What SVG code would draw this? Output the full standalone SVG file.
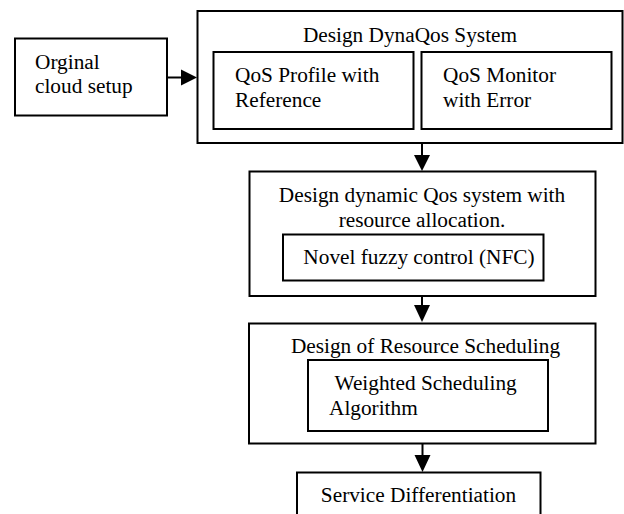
<svg xmlns="http://www.w3.org/2000/svg" width="624" height="514" viewBox="0 0 624 514" font-family="Liberation Serif, Times New Roman, serif" font-size="21.3">
  <style>
    .box { fill: #fff; stroke: #000; stroke-width: 2; }
    .lbl { fill: #000; }
    .mid { text-anchor: middle; }
    .edge { stroke: #000; stroke-width: 2; fill: none; }
    .tip { fill: #000; }
  </style>
  <rect width="624" height="514" fill="#fff"/>

  <g id="orginal-cloud">
    <rect class="box" x="15" y="38.5" width="152" height="77"/>
    <text class="lbl" x="35" y="69">Orginal</text>
    <text class="lbl" x="35" y="93">cloud setup</text>
  </g>

  <g id="dynaqos">
    <rect class="box" x="197.5" y="11" width="425" height="132"/>
    <text class="lbl mid" x="410" y="42">Design DynaQos System</text>
    <g id="qos-profile">
      <rect class="box" x="213.5" y="52" width="200" height="77"/>
      <text class="lbl" x="235" y="82">QoS Profile with</text>
      <text class="lbl" x="235" y="107">Reference</text>
    </g>
    <g id="qos-monitor">
      <rect class="box" x="421.5" y="52" width="190" height="77"/>
      <text class="lbl" x="443" y="82">QoS Monitor</text>
      <text class="lbl" x="443" y="107">with Error</text>
    </g>
  </g>

  <g id="dynamic-qos">
    <rect class="box" x="249.5" y="171.5" width="346" height="124.5"/>
    <text class="lbl mid" x="422" y="201.5">Design dynamic Qos system with</text>
    <text class="lbl mid" x="422" y="226.5">resource allocation.</text>
    <g id="nfc">
      <rect class="box" x="283" y="234.5" width="260.5" height="46"/>
      <text class="lbl mid" x="419" y="264">Novel fuzzy control (NFC)</text>
    </g>
  </g>

  <g id="scheduling">
    <rect class="box" x="249" y="323.5" width="346.5" height="120"/>
    <text class="lbl mid" x="425.5" y="353">Design of Resource Scheduling</text>
    <g id="weighted">
      <rect class="box" x="308" y="360" width="240" height="71"/>
      <text class="lbl" x="334.5" y="390">Weighted Scheduling</text>
      <text class="lbl" x="329" y="415">Algorithm</text>
    </g>
  </g>

  <g id="service-diff">
    <rect class="box" x="297" y="472.5" width="243.5" height="60"/>
    <text class="lbl mid" x="418.5" y="502">Service Differentiation</text>
  </g>

  <g id="connectors">
    <line class="edge" x1="167" y1="77.5" x2="183" y2="77.5"/>
    <path class="tip" d="M181,69.5 L197,77.5 L181,85.5 z"/>

    <line class="edge" x1="422" y1="143" x2="422" y2="156"/>
    <path class="tip" d="M414,155 L430,155 L422,171 z"/>

    <line class="edge" x1="422" y1="296" x2="422" y2="306"/>
    <path class="tip" d="M414,305 L430,305 L422,322 z"/>

    <line class="edge" x1="422.5" y1="443.5" x2="422.5" y2="456"/>
    <path class="tip" d="M414.5,455 L430.5,455 L422.5,472 z"/>
  </g>
</svg>
